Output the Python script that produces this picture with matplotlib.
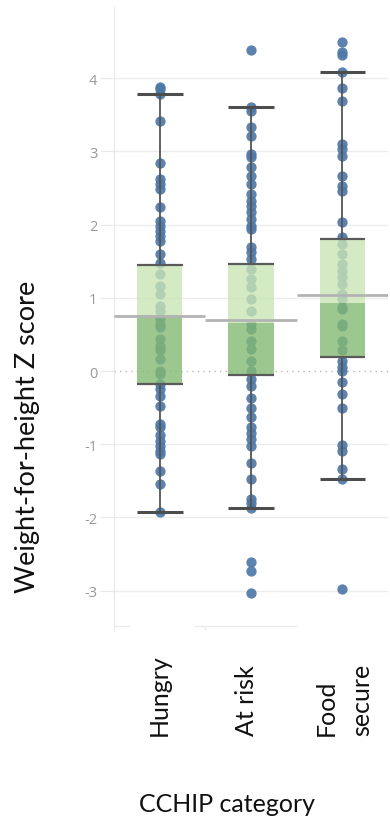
import matplotlib
matplotlib.use("Agg")
import matplotlib.pyplot as plt
import matplotlib.transforms as mtransforms

plt.rcParams["axes.unicode_minus"] = False

# ---- data -------------------------------------------------------------
categories = ["Hungry", "At risk", "Food\nsecure"]

q1 = [-0.18, -0.06, 0.19]
median = [0.77, 0.66, 0.93]
q3 = [1.45, 1.46, 1.80]
whisker_low = [-1.92, -1.87, -1.48]
whisker_high = [3.78, 3.61, 4.08]
reference_line = [0.75, 0.70, 1.04]

hungry_z = [3.88, 3.85, 3.78, 3.41, 2.84, 2.62, 2.56, 2.49, 2.24, 2.05, 1.98,
            1.91, 1.84, 1.77, 1.60, 1.48, 1.32, 1.16, 1.05, 0.89, 0.82, 0.71,
            0.64, 0.60, 0.44, 0.34, 0.28, 0.16, 0.00, -0.04, -0.18, -0.25,
            -0.34, -0.48, -0.72, -0.77, -0.88, -0.95, -1.02, -1.09, -1.13,
            -1.36, -1.54, -1.92]
at_risk_z = [4.38, 3.60, 3.55, 3.33, 3.21, 2.96, 2.92, 2.78, 2.66, 2.55, 2.41,
             2.32, 2.25, 2.17, 2.07, 1.98, 1.94, 1.69, 1.62, 1.53, 1.39, 1.26,
             1.15, 0.98, 0.82, 0.64, 0.57, 0.41, 0.30, 0.14, 0.00, -0.11,
             -0.20, -0.37, -0.50, -0.63, -0.77, -0.84, -0.93, -1.02, -1.25,
             -1.47, -1.75, -1.80, -1.87, -2.61, -2.73, -3.03]
food_secure_z = [4.49, 4.35, 4.31, 4.08, 3.87, 3.68, 3.10, 3.03, 2.93, 2.66,
                 2.52, 2.46, 2.03, 1.83, 1.73, 1.60, 1.46, 1.36, 1.28, 1.19,
                 1.05, 0.98, 0.87, 0.85, 0.64, 0.61, 0.41, 0.28, 0.14, 0.05,
                 0.00, -0.15, -0.31, -0.51, -1.01, -1.09, -1.34, -1.47, -2.97]

points = [hungry_z, at_risk_z, food_secure_z]
y_ticks = [-3, -2, -1, 0, 1, 2, 3, 4]

# ---- styling ----------------------------------------------------------
dot_color = "#4e79a7"
upper_box = "#c9e5b5"
lower_box = "#84ba73"
box_alpha = 0.8
whisker_color = "#555555"
grid_color = "#ececec"

W, H = 390, 820
fig = plt.figure(figsize=(W / 100, H / 100), dpi=100)
left, right, top, bottom = 114, 388, 8, 632
ax = fig.add_axes([left / W, 1 - bottom / H, (right - left) / W, (bottom - top) / H])

ax.set_xlim(-0.5, 2.5)
ax.set_ylim(-3.55, 4.97)

# grid lines (zero line dotted)
for t in y_ticks:
    if t == 0:
        ax.axhline(t, color="#b8b8b8", lw=1.0, ls=(0, (1, 3)), zorder=0)
    else:
        ax.axhline(t, color=grid_color, lw=1.0, zorder=0)

box_w = 0.5
for i, vals in enumerate(points):
    # individual observations
    ax.scatter([i] * len(vals), vals, s=55, color=dot_color, alpha=0.92,
               linewidths=0, zorder=2)
    # whiskers
    ax.vlines(i, q3[i], whisker_high[i], color=whisker_color, lw=1.3, zorder=2.5)
    ax.vlines(i, whisker_low[i], q1[i], color=whisker_color, lw=1.3, zorder=2.5)
    ax.hlines([whisker_low[i], whisker_high[i]], i - box_w / 2, i + box_w / 2,
              color="#4d4d4d", lw=2.2, zorder=4)
    # two-tone box split at the median
    ax.bar(i, q3[i] - median[i], bottom=median[i], width=box_w,
           color=upper_box, alpha=box_alpha, lw=0, zorder=3)
    ax.bar(i, median[i] - q1[i], bottom=q1[i], width=box_w,
           color=lower_box, alpha=box_alpha, lw=0, zorder=3)
    ax.hlines([q1[i], q3[i]], i - box_w / 2, i + box_w / 2,
              color="#5a5a5a", lw=1.6, zorder=4)
    # reference line across the pane
    ax.hlines(reference_line[i], i - 0.5, i + 0.5, color="#b3b3b3", lw=2.0,
              zorder=5)

# axes chrome
for s in ["top", "right", "bottom"]:
    ax.spines[s].set_visible(False)
ax.spines["left"].set_color("#e8e8e8")
ax.set_yticks(y_ticks)
ax.set_yticklabels([str(t) for t in y_ticks])
ax.tick_params(axis="y", length=10, color="#e8e8e8", pad=2,
               labelsize=10.5, labelcolor="#999999")
for lab in ax.get_yticklabels():
    lab.set_family(["Open Sans", "DejaVu Sans"])
ax.set_xticks([])

# pane border fragments along the bottom
ax.hlines(-3.48, -0.5, -0.33, color="#ececec", lw=1.0, zorder=0)
ax.hlines(-3.48, 0.38, 1.5, color="#ececec", lw=1.0, zorder=0)
ax.vlines(0.5, -3.55, -3.48, color="#ececec", lw=1.0, zorder=0)

# category labels, rotated
blend = mtransforms.blended_transform_factory(ax.transData, fig.transFigure)
label_x = [0.0, 0.95, 2.02]
for i, name in enumerate(categories):
    ax.text(label_x[i], 1 - 736 / H, name, transform=blend, rotation=90,
            ha="center", va="bottom", multialignment="left",
            fontsize=18, family=["Lato", "DejaVu Sans"], color="#111111",
            linespacing=1.65, clip_on=False)

fig.text(227 / W, 1 - 805 / H, "CCHIP category", ha="center", va="center",
         fontsize=18, family=["Lato", "DejaVu Sans"], color="#111111")
fig.text(28 / W, 1 - 437 / H, "Weight-for-height Z score", rotation=90,
         ha="center", va="center", fontsize=19.5,
         family=["Lato", "DejaVu Sans"], color="#111111")

fig.savefig("out.png", dpi=100, facecolor="white")
